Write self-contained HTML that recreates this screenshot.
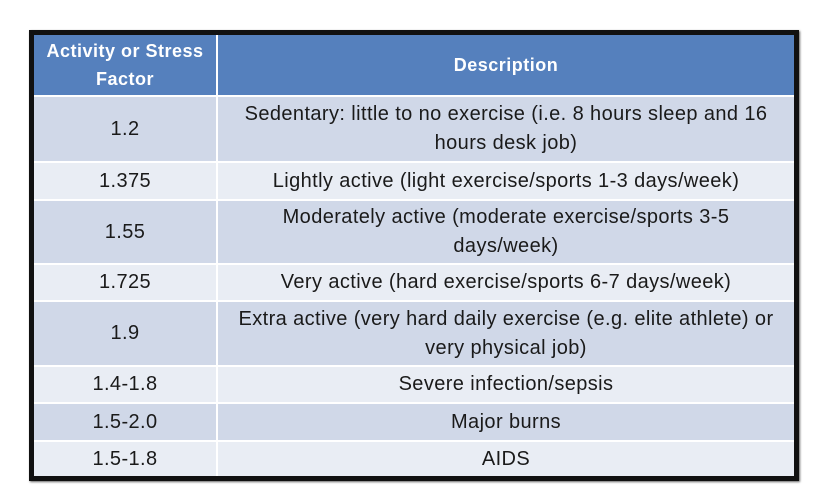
<!DOCTYPE html>
<html><head><style>
body{margin:0;width:822px;height:496px;background:#fff;position:relative;overflow:hidden;font-family:"Liberation Sans",sans-serif;}
#box{position:absolute;left:29px;top:30px;width:760px;height:441px;border:5px solid #111;background:#fff;box-shadow:1px 1px 2px #666;}
.r{position:absolute;left:0;width:760px;display:flex;}
.c1,.c2{display:flex;align-items:center;justify-content:center;text-align:center;color:#1a1a1a;font-size:20px;letter-spacing:0.4px;line-height:29px;white-space:nowrap;}
.c1{width:182px;}
.c2{width:576px;margin-left:2px;}
.h .c1,.h .c2{background:#5580bd;color:#fff;font-weight:bold;font-size:18px;letter-spacing:0.5px;line-height:28px;}
.o .c1,.o .c2{background:#d0d8e8;}
.e .c1,.e .c2{background:#e9edf4;}
</style></head><body>
<div id="box">
<div class="r h" style="top:0;height:60px"><div class="c1">Activity or Stress<br>Factor</div><div class="c2">Description</div></div>
<div class="r o" style="top:62px;height:64px"><div class="c1">1.2</div><div class="c2">Sedentary: little to no exercise (i.e. 8 hours sleep and 16<br>hours desk job)</div></div>
<div class="r e" style="top:128px;height:36px"><div class="c1">1.375</div><div class="c2">Lightly active (light exercise/sports 1-3 days/week)</div></div>
<div class="r o" style="top:166px;height:62px"><div class="c1">1.55</div><div class="c2">Moderately active (moderate exercise/sports 3-5<br>days/week)</div></div>
<div class="r e" style="top:230px;height:35px"><div class="c1">1.725</div><div class="c2">Very active (hard exercise/sports 6-7 days/week)</div></div>
<div class="r o" style="top:267px;height:63px"><div class="c1">1.9</div><div class="c2">Extra active (very hard daily exercise (e.g. elite athlete) or<br>very physical job)</div></div>
<div class="r e" style="top:332px;height:35px"><div class="c1">1.4-1.8</div><div class="c2">Severe infection/sepsis</div></div>
<div class="r o" style="top:369px;height:36px"><div class="c1">1.5-2.0</div><div class="c2">Major burns</div></div>
<div class="r e" style="top:407px;height:34px"><div class="c1">1.5-1.8</div><div class="c2">AIDS</div></div>
</div>
</body></html>
